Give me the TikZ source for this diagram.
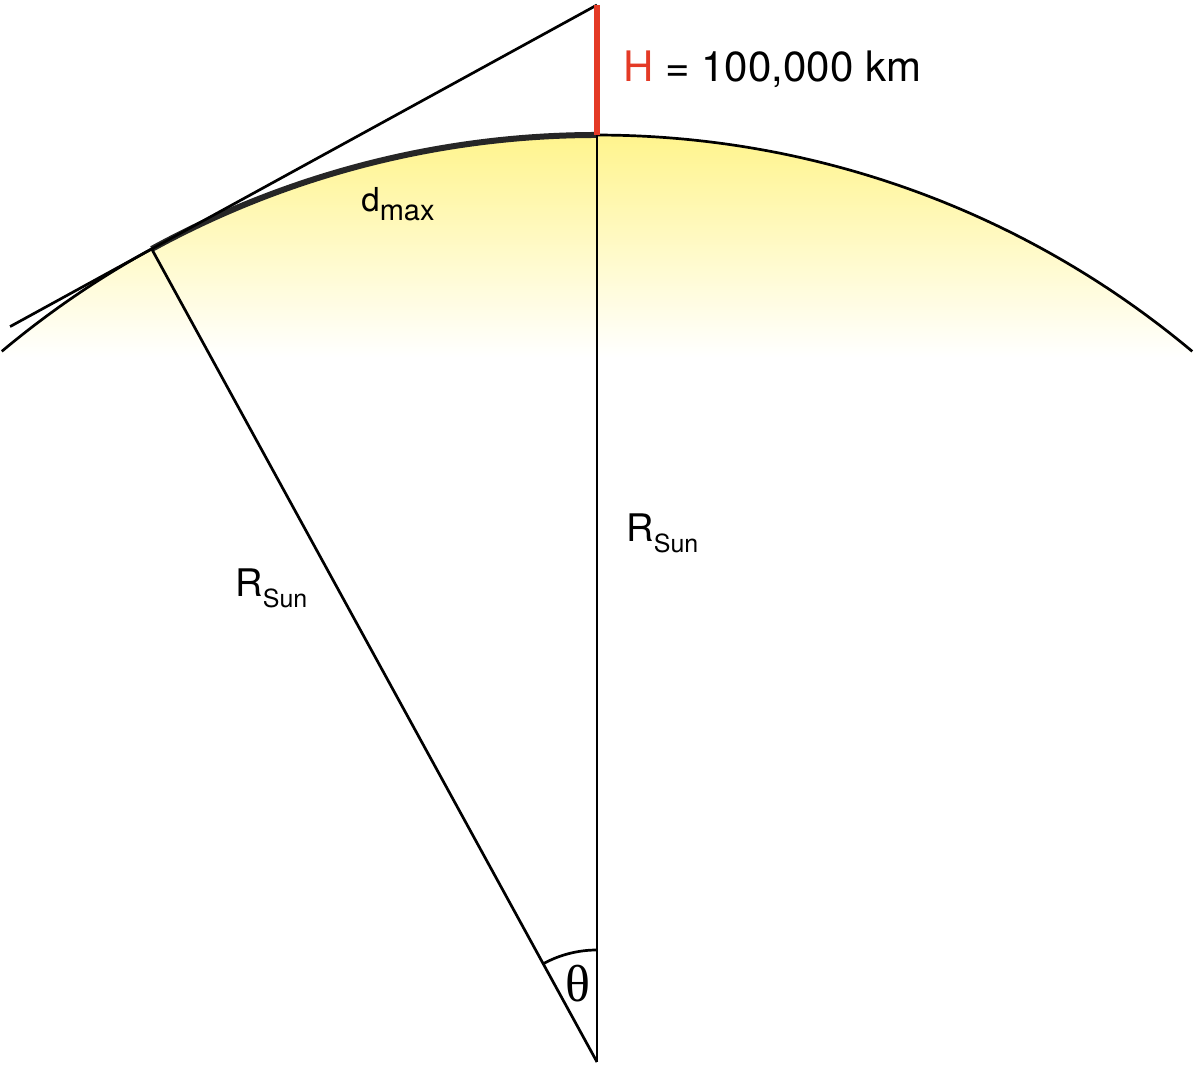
\documentclass[tikz,border=0pt]{standalone}
\usepackage{fontspec}
\setmainfont{TeX Gyre Heros}
\newfontfamily\grkfont{Liberation Serif}
\usetikzlibrary{calc}
\definecolor{sunyellow}{RGB}{255,244,140}
\definecolor{hred}{RGB}{228,58,38}
\begin{document}
\begin{tikzpicture}[x=0.5pt,y=0.5pt,line join=round,
  thinline/.style={line width=1.35pt,black},
  thickarc/.style={line width=3pt,black!85},
  redline/.style={line width=3pt,hred},
  lab/.style={inner sep=0pt,anchor=base west}]
\useasboundingbox (0,0) rectangle (1200,1069);
\fill[white] (0,0) rectangle (1200,1069);
\coordinate (C) at (597,7);
\coordinate (T) at (597,934);
\coordinate (P) at (597,1064);
\coordinate (Q) at ([shift={(118.71:927)}]C);
\coordinate (E) at ($(P)!1.318!(Q)$);
\coordinate (AL) at ([shift={(129.95:927)}]C);
\coordinate (AA) at ([shift={(90:112)}]C);
% glow
\begin{scope}
\clip (C) circle[radius=927];
\shade[top color=sunyellow,bottom color=white] (0,712) rectangle (1200,936);
\end{scope}
% sun limb
\draw[thinline] (AL) arc[start angle=129.95,end angle=50.05,radius=927];
\draw[thickarc] (Q) arc[start angle=118.71,end angle=90,radius=927];
% lines
\draw[thinline] (P) -- (E);
\draw[thinline] (C) -- (Q);
\draw[thinline] (C) -- (T);
\draw[redline] (T) -- (P);
\draw[thinline] (AA) arc[start angle=90,end angle=118.71,radius=112];
% labels
\node[lab,font=\fontsize{21}{21}\selectfont] (hlab) at (623,987) {\textcolor{hred}{H} = 100,000 km};
\node[lab,font=\fontsize{16.5}{16.5}\selectfont] (dlab) at (361,857) {d\raisebox{-4.5pt}{\fontsize{14.5}{14.5}\selectfont max}};
\node[lab,font=\fontsize{19}{19}\selectfont] (r1) at (626,527) {R\raisebox{-5.5pt}{\fontsize{12.5}{12.5}\selectfont Sun}};
\node[lab,font=\fontsize{19}{19}\selectfont] (r2) at (235,472) {R\raisebox{-5.5pt}{\fontsize{12.5}{12.5}\selectfont Sun}};
\node[inner sep=0pt,anchor=base] (th) at (578,67) {\grkfont\fontsize{26}{26}\selectfont θ};
\end{tikzpicture}
\end{document}
